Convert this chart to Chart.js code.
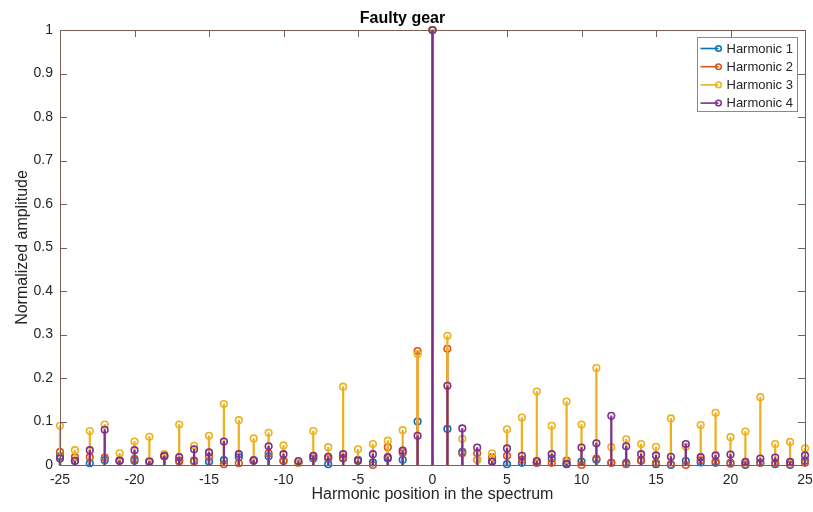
<!DOCTYPE html>
<html>
<head>
<meta charset="utf-8">
<script src="https://cdn.jsdelivr.net/npm/chart.js@4/dist/chart.umd.min.js"></script>
<style>
html,body{margin:0;padding:0;background:#ffffff;}
#wrap{width:813px;height:512px;}
</style>
</head>
<body>
<div id="wrap"><canvas id="c" width="813" height="512"></canvas></div>
<script>
// ---- data ----
const positions = [-25,-24,-23,-22,-21,-20,-19,-18,-17,-16,-15,-14,-13,-12,-11,-10,-9,-8,-7,-6,-5,-4,-3,-2,-1,0,1,2,3,4,5,6,7,8,9,10,11,12,13,14,15,16,17,18,19,20,21,22,23,24,25];
const harmonic1 = [0.020,0.010,0.004,0.011,0.010,0.010,0.008,0.020,0.010,0.010,0.008,0.011,0.018,0.010,0.020,0.010,0.005,0.015,0.002,0.015,0.012,0.006,0.015,0.012,0.100,1.000,0.083,0.030,0.012,0.008,0.002,0.005,0.005,0.015,0.003,0.008,0.012,0.005,0.005,0.011,0.002,0.000,0.009,0.006,0.005,0.005,0.000,0.005,0.002,0.000,0.010];
const harmonic2 = [0.030,0.018,0.018,0.017,0.010,0.014,0.008,0.020,0.008,0.008,0.019,0.002,0.004,0.010,0.027,0.009,0.005,0.020,0.015,0.017,0.010,0.000,0.041,0.028,0.262,1.000,0.267,0.027,0.027,0.018,0.021,0.012,0.005,0.005,0.010,0.000,0.015,0.005,0.002,0.010,0.005,0.002,0.000,0.011,0.008,0.003,0.002,0.005,0.005,0.002,0.005];
const harmonic3 = [0.090,0.034,0.078,0.093,0.027,0.054,0.065,0.025,0.093,0.044,0.067,0.140,0.103,0.061,0.074,0.045,0.005,0.078,0.041,0.180,0.036,0.048,0.056,0.080,0.255,1.000,0.297,0.060,0.012,0.027,0.082,0.109,0.169,0.090,0.146,0.093,0.223,0.041,0.059,0.048,0.042,0.107,0.042,0.092,0.120,0.064,0.077,0.156,0.048,0.053,0.038];
const harmonic4 = [0.015,0.009,0.034,0.081,0.010,0.034,0.008,0.021,0.018,0.036,0.029,0.054,0.025,0.011,0.043,0.025,0.009,0.021,0.019,0.025,0.010,0.025,0.018,0.033,0.067,1.000,0.182,0.084,0.040,0.008,0.038,0.021,0.009,0.025,0.002,0.040,0.050,0.113,0.043,0.025,0.022,0.019,0.048,0.018,0.022,0.024,0.007,0.015,0.017,0.007,0.022];
const seriesNames = ['Harmonic 1','Harmonic 2','Harmonic 3','Harmonic 4'];
const seriesColors = ['#0072BD','#D95319','#EDB120','#7E2F8E'];
const xTickValues = [-25,-20,-15,-10,-5,0,5,10,15,20,25];
const xTickLabels = ['-25','-20','-15','-10','-5','0','5','10','15','20','25'];
const yTickValues = [0,0.1,0.2,0.3,0.4,0.5,0.6,0.7,0.8,0.9,1];
const yTickLabels = ['0','0.1','0.2','0.3','0.4','0.5','0.6','0.7','0.8','0.9','1'];
const chartTitle = 'Faulty gear';
const xTitle = 'Harmonic position in the spectrum';
const yTitle = 'Normalized amplitude';

// ---- build datasets ----
const allSeries = [harmonic1, harmonic2, harmonic3, harmonic4];
const FONT = '"Liberation Sans", Arial, Helvetica, sans-serif';
const TEXT = '#262626';
const AXIS = '#7d5f57';
const datasets = [];
allSeries.forEach((vals, s) => {
  const pts = positions.map((p, i) => ({x: p, y: vals[i]}));
  const rank = (3 - s) * 2; // later series on top
  datasets.push({
    type: 'bar', label: seriesNames[s] + ' stem', data: pts,
    backgroundColor: seriesColors[s], borderWidth: 0,
    barThickness: 1.6, grouped: false, order: rank + 2, clip: false
  });
  datasets.push({
    type: 'line', label: seriesNames[s], data: pts, showLine: false,
    pointStyle: 'circle', pointRadius: 3.3, pointBorderWidth: 1.6,
    pointBorderColor: seriesColors[s], pointBackgroundColor: 'rgba(255,255,255,0)',
    order: rank + 1, clip: false
  });
});

// ---- frame, inner ticks and legend ----
const framePlugin = {
  id: 'frameTicksLegend',
  afterDatasetsDraw(chart) {
    const {ctx, chartArea: a, scales} = chart;
    ctx.save();
    ctx.strokeStyle = AXIS;
    ctx.lineWidth = 1;
    ctx.strokeRect(Math.round(a.left) + 0.5, Math.round(a.top) + 0.5, Math.round(a.right - a.left), Math.round(a.bottom - a.top));
    const TL = 7;
    ctx.beginPath();
    xTickValues.forEach(v => {
      const px = Math.round(scales.x.getPixelForValue(v)) + 0.5;
      ctx.moveTo(px, a.bottom); ctx.lineTo(px, a.bottom - TL);
      ctx.moveTo(px, a.top); ctx.lineTo(px, a.top + TL);
    });
    yTickValues.forEach(v => {
      const py = Math.round(scales.y.getPixelForValue(v)) + 0.5;
      ctx.moveTo(a.left, py); ctx.lineTo(a.left + TL, py);
      ctx.moveTo(a.right, py); ctx.lineTo(a.right - TL, py);
    });
    ctx.stroke();

    // legend box
    const bw = 100, bh = 74;
    const bx = Math.round(a.right - 108) + 0.5, by = Math.round(a.top + 6.5) + 0.5;
    ctx.fillStyle = '#ffffff';
    ctx.fillRect(bx, by, bw, bh);
    ctx.strokeStyle = '#8a8a8a';
    ctx.strokeRect(bx, by, bw, bh);
    ctx.font = '13px ' + FONT;
    ctx.textBaseline = 'middle';
    ctx.textAlign = 'left';
    seriesNames.forEach((name, i) => {
      const cy = by + 11 + i * 18.2;
      ctx.strokeStyle = seriesColors[i];
      ctx.lineWidth = 1.6;
      ctx.beginPath(); ctx.moveTo(bx + 3, cy); ctx.lineTo(bx + 21, cy); ctx.stroke();
      ctx.lineWidth = 1.5;
      ctx.beginPath(); ctx.arc(bx + 21, cy, 2.8, 0, Math.PI * 2); ctx.stroke();
      ctx.fillStyle = TEXT;
      ctx.fillText(name, bx + 29, cy + 0.5);
    });
    ctx.restore();
  }
};

Chart.defaults.font.family = FONT;
Chart.defaults.color = TEXT;

new Chart(document.getElementById('c'), {
  type: 'scatter',
  data: {datasets},
  options: {
    responsive: false, animation: false, devicePixelRatio: 1,
    layout: {padding: {left: 0, right: 8, top: 0, bottom: 0}},
    plugins: {
      legend: {display: false}, tooltip: {enabled: false},
      title: {display: true, text: chartTitle, color: '#000000',
        font: {size: 16, weight: 'bold', family: FONT}, padding: {top: 9, bottom: 1.8}}
    },
    scales: {
      x: {
        type: 'linear', min: -25, max: 25, offset: false,
        afterBuildTicks: s => { s.ticks = xTickValues.map(v => ({value: v})); },
        afterFit: s => { s.height = 47; s.paddingLeft = 0; s.paddingRight = 0; },
        grid: {display: false, drawTicks: false}, border: {display: false},
        ticks: {font: {size: 14}, color: TEXT, padding: 7, maxRotation: 0,
          callback: (v, i) => xTickLabels[i]},
        title: {display: true, text: xTitle, color: TEXT, font: {size: 16}, padding: {top: 0, bottom: 8}}
      },
      y: {
        type: 'linear', min: 0, max: 1,
        afterBuildTicks: s => { s.ticks = yTickValues.map(v => ({value: v})); },
        afterFit: s => { s.width = 60; },
        grid: {display: false, drawTicks: false}, border: {display: false},
        ticks: {font: {size: 14}, color: TEXT, padding: 7,
          callback: (v, i) => yTickLabels[i]},
        title: {display: true, text: yTitle, color: TEXT, font: {size: 16}, padding: {top: 13, bottom: 0}}
      }
    }
  },
  plugins: [framePlugin]
});
</script>
</body>
</html>
